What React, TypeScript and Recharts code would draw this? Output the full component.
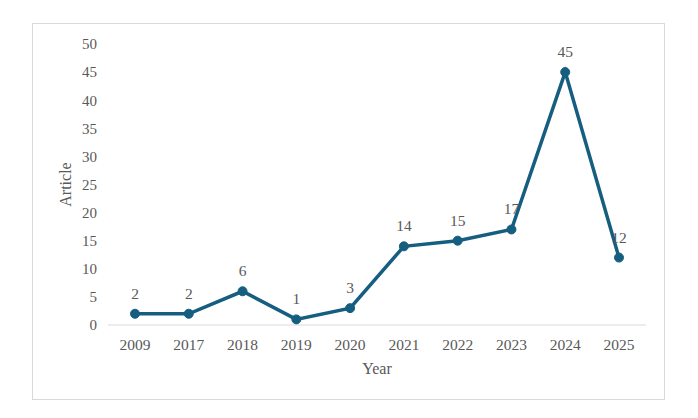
import React from 'react';
import { LineChart, Line, XAxis, YAxis, LabelList } from 'recharts';

const years = ['2009', '2017', '2018', '2019', '2020', '2021', '2022', '2023', '2024', '2025'];
const articles = [2, 2, 6, 1, 3, 14, 15, 17, 45, 12];
const yTicks = [0, 5, 10, 15, 20, 25, 30, 35, 40, 45, 50];

const data = years.map((year, i) => ({ year, article: articles[i] }));

const LINE = '#165e80';
const TEXT = '#595959';
const FONT = '"Liberation Serif", "Times New Roman", serif';

const App: React.FC = () => {
  return (
    <div style={{ position: 'absolute', left: 0, top: 0, width: 698, height: 418, background: '#fff' }}>
      <div
        style={{
          position: 'absolute',
          left: 32,
          top: 23,
          width: 631,
          height: 375,
          border: '1px solid #d9d9d9',
          fontFamily: FONT,
        }}
      >
        <LineChart width={631} height={375} data={data} margin={{ top: 20, right: 18, bottom: 16, left: 0 }}>
          <XAxis
            dataKey="year"
            stroke="#d9d9d9"
            tickLine={false}
            tickSize={0}
            tickMargin={14}
            height={58}
            padding={{ left: 27, right: 27 }}
            tick={{ fill: TEXT, fontSize: 15.5, fontFamily: FONT }}
            label={{ value: 'Year', position: 'insideBottom', offset: 9, fill: TEXT, fontSize: 16, fontFamily: FONT }}
          />
          <YAxis
            domain={[0, 50]}
            ticks={yTicks}
            width={75}
            axisLine={false}
            tickLine={false}
            tickSize={0}
            tickMargin={11}
            tick={{ fill: TEXT, fontSize: 15, fontFamily: FONT }}
            label={{
              value: 'Article',
              angle: -90,
              position: 'insideLeft',
              offset: 32,
              fill: TEXT,
              fontSize: 16,
              fontFamily: FONT,
              style: { textAnchor: 'middle' },
            }}
          />
          <Line
            type="linear"
            dataKey="article"
            stroke={LINE}
            strokeWidth={3.5}
            dot={{ r: 4.5, fill: LINE, stroke: LINE, strokeWidth: 1 }}
            activeDot={false}
            isAnimationActive={false}
          >
            <LabelList dataKey="article" position="top" offset={15} fill={TEXT} fontSize={15.5} fontFamily={FONT} />
          </Line>
        </LineChart>
      </div>
    </div>
  );
};

export default App;
